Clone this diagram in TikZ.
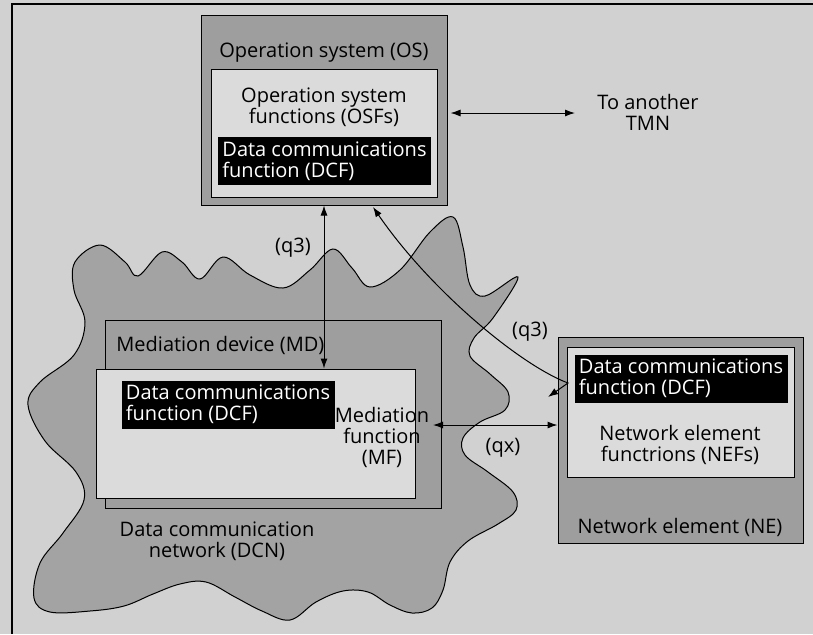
\documentclass[tikz,border=0pt]{standalone}
\usepackage{fontspec}
\setmainfont{Open Sans}
\usetikzlibrary{positioning}
\usetikzlibrary{arrows.meta}
\usetikzlibrary{calc}
\usetikzlibrary{fit}

\definecolor{bggray}{gray}{0.82}
\definecolor{boxgray}{gray}{0.62}
\definecolor{fngray}{gray}{0.86}
\definecolor{cloudgray}{gray}{0.64}

\begin{document}
\begin{tikzpicture}[
    x=0.5pt, y=-0.5pt,
    outerbox/.style={rectangle, draw=black, line width=0.5pt, fill=boxgray, inner sep=0pt},
    innerbox/.style={rectangle, draw=black, line width=0.5pt, fill=fngray, inner sep=0pt},
    dcf/.style={rectangle, fill=black, text=white, align=left, minimum width=106.5pt, minimum height=24pt, inner sep=1pt, font=\fontsize{10}{10.5}\selectfont},
    lbl/.style={align=center, inner sep=1pt, font=\fontsize{10}{10.5}\selectfont},
    link/.style={{Latex[length=5pt,width=3.5pt]}-{Latex[length=5pt,width=3.5pt]}, line width=0.5pt},
]
    \useasboundingbox (0,0) rectangle (813,634);
    \fill[bggray] (0,0) rectangle (813,634);
    \draw[line width=0.6pt] (12,634) -- (12,4) -- (813,4);

    % data communication network
    \draw[line width=0.5pt, fill=cloudgray] plot[smooth cycle, tension=0.6] coordinates {
        (75,262) (100,245) (125,262) (138,276) (162,252) (182,262) (200,279)
        (223,257) (250,275) (283,288) (310,270) (333,249) (352,268) (370,287)
        (400,270) (430,232) (453,217) (463,247) (470,285) (485,296) (518,277)
        (493,318) (474,338) (470,356) (490,374) (508,392) (505,410) (480,422)
        (463,438) (465,455) (488,472) (513,492) (516,510) (498,524) (468,541)
        (450,562) (443,590) (432,608) (412,613) (390,605) (368,592) (343,591)
        (316,602) (290,620) (262,611) (235,597) (206,582) (180,584) (153,594)
        (124,606) (90,611) (50,612) (34,598) (40,563) (63,533) (84,500)
        (76,472) (45,441) (28,405) (40,382) (74,355) (85,322) (74,290)};

    % operation system
    \node[outerbox, fit={(201,15) (447,205)}] (OS) {};
    \node[innerbox, fit={(211,69) (437,197)}] (OSF) {};
    \node[lbl] (OSlbl) at (324,53) {Operation system (OS)};
    \node[lbl] (OSFlbl) at (324,107) {Operation system\\functions (OSFs)};
    \node[dcf] (OSdcf) at (324.5,161) {Data communications\\function (DCF)};

    % mediation device
    \node[outerbox, fit={(105,320) (441,508)}] (MD) {};
    \node[lbl, anchor=west] (MDlbl) at (114,345) {Mediation device (MD)};
    \node[innerbox, fit={(96,369) (415,498)}] (MF) {};
    \node[dcf] (MDdcf) at (228,404.5) {Data communications\\function (DCF)};
    \node[lbl] (MFlbl) at (382,437) {Mediation\\function\\(MF)};
    \node[lbl] (DCNlbl) at (217,541) {Data communication\\network (DCN)};

    % network element
    \node[outerbox, fit={(558,337) (803,543)}] (NE) {};
    \node[innerbox, fit={(567,347) (794,477)}] (NEF) {};
    \node[dcf] (NEdcf) at (681,378.5) {Data communications\\function (DCF)};
    \node[lbl] (NEFlbl) at (680,445) {Network element\\functrions (NEFs)};
    \node[lbl] (NElbl) at (680,527) {Network element (NE)};

    \node[lbl] (TMN) at (648,112) {To another\\TMN};

    \coordinate (TMNend) at (575,113);
    \coordinate (qxL) at (433,425);
    \coordinate (OSfoot) at (373,207);
    \coordinate (NEturn) at (568,383);
    \coordinate (NEtip) at (548,397);

    \draw[link] ($(TMNend -| OS.east)+(3,0)$) -- (TMNend);
    \draw[link] (OS.south) -- (OS.south |- MF.north);
    \draw[link] (qxL) -- (qxL -| NE.west);
    \draw[link] (NEtip) -- (NEturn) .. controls (520,365) and (430,290) .. (OSfoot);

    \node[lbl] (q3a) at (293,248) {(q3)};
    \node[lbl] (q3b) at (530,332) {(q3)};
    \node[lbl] (qx) at (503,448) {(qx)};
\end{tikzpicture}
\end{document}
